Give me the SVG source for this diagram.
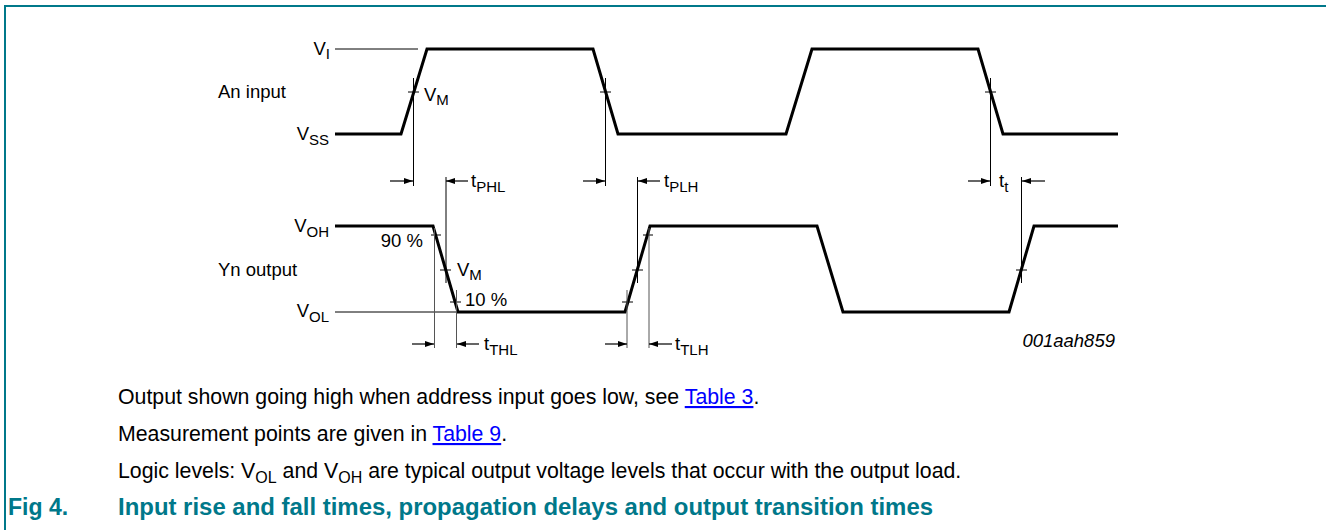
<svg xmlns="http://www.w3.org/2000/svg" width="1326" height="530" viewBox="0 0 1326 530">
<style>
.wave{fill:none;stroke:#000;stroke-width:3;stroke-linejoin:miter}
.thin{fill:none;stroke:#000;stroke-width:1}
.grey{fill:none;stroke:#555;stroke-width:1}
.dim{fill:none;stroke:#000;stroke-width:1.2;marker-end:url(#ah)}
.lbl{font-family:"Liberation Sans",Arial,sans-serif;font-size:18.5px;fill:#000}
.sub{font-size:15px}
.body{font-family:"Liberation Sans",Arial,sans-serif;font-size:21.3px;fill:#000}
.bsub{font-size:16px}
.link{fill:#0000ff;text-decoration:underline}
.cap{font-family:"Liberation Sans",Arial,sans-serif;font-size:23px;font-weight:bold;fill:#00788a}
</style>
<defs>
<marker id="ah" viewBox="0 0 10 10" refX="10" refY="5" markerWidth="9" markerHeight="6" markerUnits="userSpaceOnUse" orient="auto" preserveAspectRatio="none"><path d="M0,0 L10,5 L0,10 z" fill="#000"/></marker>
</defs>
<rect x="0" y="0" width="1326" height="530" fill="#fff"/>
<g id="frame"><path d="M5,530 V6 H1326" fill="none" stroke="#00788a" stroke-width="2"/></g>

<g id="input-wave">
<line class="thin" x1="335" y1="49" x2="418" y2="49"/>
<path class="wave" d="M335,134 H401 L427,49 H593 L618,134 H786 L812,49 H978 L1003,134 H1118"/>
<text class="lbl" x="330" y="55" text-anchor="end">V<tspan class="sub" dy="4">I</tspan></text>
<text class="lbl" x="218" y="98">An input</text>
<text class="lbl" x="329" y="140" text-anchor="end">V<tspan class="sub" dy="5">SS</tspan></text>
</g>

<g id="output-wave">
<line class="thin" x1="335" y1="312" x2="458" y2="312"/>
<path class="wave" d="M335,226 H433 L458,312 H625 L650,226 H817 L843,312 H1009 L1034,226 H1118"/>
<text class="lbl" x="329" y="232" text-anchor="end">V<tspan class="sub" dy="5">OH</tspan></text>
<text class="lbl" x="218" y="276">Yn output</text>
<text class="lbl" x="329" y="317" text-anchor="end">V<tspan class="sub" dy="5">OL</tspan></text>
<text class="lbl" x="423" y="247" text-anchor="end" font-size="18">90 %</text>
<text class="lbl" x="457" y="276">V<tspan class="sub" dy="4">M</tspan></text>
<text class="lbl" x="465" y="306" font-size="18">10 %</text>
<text class="lbl" x="1115" y="347" text-anchor="end" font-style="italic" font-size="14.5">001aah859</text>
</g>

<g id="markers">
<line class="thin" x1="408" y1="92" x2="419" y2="92"/>
<line class="thin" x1="413.5" y1="78" x2="413.5" y2="186"/>
<text class="lbl" x="424" y="101">V<tspan class="sub" dy="4">M</tspan></text>
<line class="thin" x1="600" y1="92" x2="611" y2="92"/>
<line class="thin" x1="605.5" y1="78" x2="605.5" y2="186"/>
<line class="thin" x1="985" y1="92" x2="996" y2="92"/>
<line class="thin" x1="990.5" y1="78" x2="990.5" y2="186"/>
<line class="thin" x1="431" y1="235" x2="441" y2="235"/>
<line class="grey" x1="434.5" y1="228" x2="434.5" y2="348"/>
<line class="thin" x1="440" y1="270" x2="451" y2="270"/>
<line class="thin" x1="446" y1="177" x2="446" y2="283"/>
<line class="thin" x1="450" y1="302" x2="461" y2="302"/>
<line class="grey" x1="456.5" y1="290" x2="456.5" y2="348"/>
<line class="thin" x1="622" y1="302" x2="633" y2="302"/>
<line class="grey" x1="627" y1="290" x2="627" y2="348"/>
<line class="thin" x1="632" y1="270" x2="643" y2="270"/>
<line class="thin" x1="637.5" y1="177" x2="637.5" y2="283"/>
<line class="thin" x1="643" y1="235" x2="653" y2="235"/>
<line class="grey" x1="649" y1="228" x2="649" y2="348"/>
<line class="thin" x1="1016" y1="270" x2="1027" y2="270"/>
<line class="thin" x1="1021.5" y1="177" x2="1021.5" y2="283"/>
</g>

<g id="connectors">
<line class="dim" x1="390" y1="181" x2="413" y2="181"/>
<line class="dim" x1="468" y1="181" x2="446" y2="181"/>
<line class="dim" x1="583" y1="181" x2="605" y2="181"/>
<line class="dim" x1="660" y1="181" x2="638" y2="181"/>
<line class="dim" x1="968" y1="181" x2="990" y2="181"/>
<line class="dim" x1="1045" y1="181" x2="1022" y2="181"/>
<line class="dim" x1="412" y1="344" x2="434" y2="344"/>
<line class="dim" x1="479" y1="344" x2="457" y2="344"/>
<line class="dim" x1="605" y1="344" x2="627" y2="344"/>
<line class="dim" x1="672" y1="344" x2="649" y2="344"/>
</g>

<g id="dim-labels">
<text class="lbl" x="471" y="187">t<tspan class="sub" dy="5">PHL</tspan></text>
<text class="lbl" x="664" y="187">t<tspan class="sub" dy="5">PLH</tspan></text>
<text class="lbl" x="999" y="187">t<tspan class="sub" dy="5">t</tspan></text>
<text class="lbl" x="484" y="350">t<tspan class="sub" dy="5">THL</tspan></text>
<text class="lbl" x="675" y="350">t<tspan class="sub" dy="5">TLH</tspan></text>
</g>

<g id="notes">
<text class="body" x="118" y="404">Output shown going high when address input goes low, see <tspan class="link">Table 3</tspan>.</text>
<text class="body" x="118" y="441">Measurement points are given in <tspan class="link">Table 9</tspan>.</text>
<text class="body" x="118" y="478">Logic levels: V<tspan class="bsub" dy="5">OL</tspan><tspan dy="-5"> and V</tspan><tspan class="bsub" dy="5">OH</tspan><tspan dy="-5"> are typical output voltage levels that occur with the output load.</tspan></text>
<text class="cap" x="8" y="515">Fig 4.</text>
<text class="cap" x="118" y="515" textLength="815" lengthAdjust="spacingAndGlyphs">Input rise and fall times, propagation delays and output transition times</text>
</g>
</svg>
